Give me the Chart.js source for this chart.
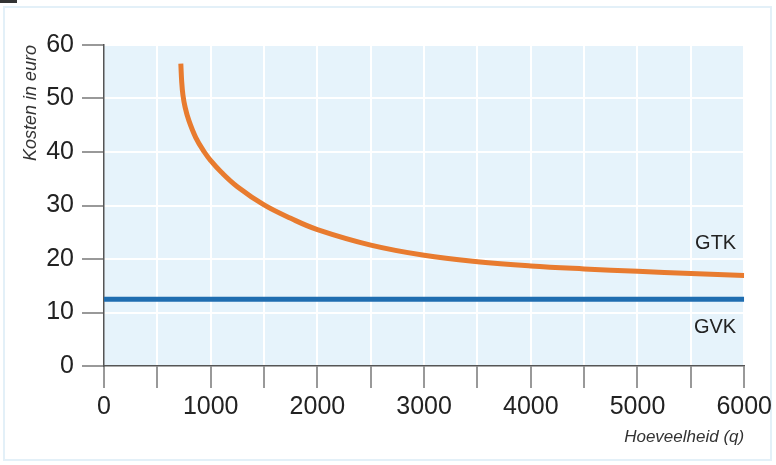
<!DOCTYPE html>
<html>
<head>
<meta charset="utf-8">
<script src="https://cdn.jsdelivr.net/npm/chart.js@4/dist/chart.umd.min.js"></script>
<style>
  html, body { margin: 0; padding: 0; background: #ffffff; }
  #wrap { position: relative; width: 776px; height: 465px; }
</style>
</head>
<body>
<div id="wrap"><canvas id="c" width="776" height="465"></canvas></div>
<script>
// Hoeveelheid (q) and gemiddelde totale kosten (GTK) in euro
const gtkQ      = [720, 728, 740, 760, 795, 860, 940, 1000, 1100, 1250, 1500, 1750, 2000, 2500, 3000, 3500, 4000, 4500, 5000, 5500, 6000];
const gtkValues = [56.5, 53.2, 50.6, 48.4, 45.9, 42.7, 40.0, 38.4, 36.2, 33.5, 30.1, 27.6, 25.5, 22.6, 20.7, 19.5, 18.7, 18.15, 17.7, 17.3, 16.9];
// Gemiddelde variabele kosten (GVK), constant
const gvkQ      = [0, 6000];
const gvkValues = [12.5, 12.5];

const xTicks = [0, 1000, 2000, 3000, 4000, 5000, 6000];
const yTicks = [0, 10, 20, 30, 40, 50, 60];

const seriesLabels = [
  { text: 'GTK', q: 5925, v: 22.9 },
  { text: 'GVK', q: 5925, v: 7.2 }
];

const toPoints = (xs, ys) => xs.map((x, i) => ({ x: x, y: ys[i] }));

const frameAndBackground = {
  id: 'frameAndBackground',
  beforeDraw(chart) {
    const { ctx, chartArea: a } = chart;
    ctx.save();
    ctx.strokeStyle = '#e3f0f8';
    ctx.lineWidth = 2;
    ctx.strokeRect(4, 7, 767, 453);
    ctx.fillStyle = '#333333';
    ctx.fillRect(0, 0, 17, 3);
    ctx.fillStyle = '#e6f3fb';
    ctx.fillRect(a.left, a.top, a.right - a.left, a.bottom - a.top);
    ctx.restore();
  }
};

const curveLabels = {
  id: 'curveLabels',
  afterDatasetsDraw(chart) {
    const { ctx, scales } = chart;
    ctx.save();
    ctx.font = '20px "Liberation Sans", Arial, sans-serif';
    ctx.fillStyle = '#222222';
    ctx.textAlign = 'right';
    ctx.textBaseline = 'middle';
    seriesLabels.forEach(l => {
      ctx.fillText(l.text, scales.x.getPixelForValue(l.q), scales.y.getPixelForValue(l.v));
    });
    ctx.restore();
  }
};

const hideAtZero = ctx => (ctx.tick && ctx.tick.value === 0) ? 'rgba(0,0,0,0)' : '#ffffff';

new Chart(document.getElementById('c'), {
  type: 'line',
  data: {
    datasets: [
      {
        label: 'GVK',
        data: toPoints(gvkQ, gvkValues),
        borderColor: '#1f6db0',
        borderWidth: 5,
        pointRadius: 0,
        borderCapStyle: 'butt',
        fill: false
      },
      {
        label: 'GTK',
        data: toPoints(gtkQ, gtkValues),
        borderColor: '#e87b2f',
        borderWidth: 5,
        pointRadius: 0,
        borderCapStyle: 'butt',
        borderJoinStyle: 'round',
        tension: 0.4,
        fill: false
      }
    ]
  },
  options: {
    responsive: false,
    animation: false,
    events: [],
    layout: { padding: { left: 0, top: 45, right: 30, bottom: 0 } },
    plugins: { legend: { display: false }, tooltip: { enabled: false } },
    scales: {
      x: {
        type: 'linear',
        min: 0,
        max: 6000,
        afterFit(scale) { scale.height = 99; },
        afterBuildTicks(scale) {
          const t = [];
          for (let v = 0; v <= 6000; v += 500) t.push({ value: v });
          scale.ticks = t;
        },
        ticks: {
          autoSkip: false,
          maxRotation: 0,
          padding: 4,
          color: '#222222',
          font: { family: '"Liberation Sans", Arial, sans-serif', size: 25 },
          callback: v => xTicks.includes(v) ? String(v) : ''
        },
        grid: {
          color: hideAtZero,
          lineWidth: 2,
          tickColor: '#777777',
          tickLength: 22,
          tickWidth: 1.5
        },
        border: { display: true, color: '#555555', width: 1.5 },
        title: {
          display: true,
          text: 'Hoeveelheid (q)',
          align: 'end',
          color: '#333333',
          padding: { top: 0, bottom: 18 },
          font: { family: '"Liberation Sans", Arial, sans-serif', size: 17, style: 'italic' }
        }
      },
      y: {
        type: 'linear',
        min: 0,
        max: 60,
        afterFit(scale) { scale.width = 104; },
        afterBuildTicks(scale) { scale.ticks = yTicks.map(v => ({ value: v })); },
        ticks: {
          padding: 8,
          color: '#222222',
          font: { family: '"Liberation Sans", Arial, sans-serif', size: 25 }
        },
        grid: {
          color: hideAtZero,
          lineWidth: 2,
          tickColor: '#777777',
          tickLength: 22,
          tickWidth: 1.5
        },
        border: { display: true, color: '#555555', width: 1.5 },
        title: {
          display: true,
          text: 'Kosten in euro',
          align: 'end',
          color: '#333333',
          padding: { top: 20, bottom: 0 },
          font: { family: '"Liberation Sans", Arial, sans-serif', size: 18, style: 'italic' }
        }
      }
    }
  },
  plugins: [frameAndBackground, curveLabels]
});
</script>
</body>
</html>
